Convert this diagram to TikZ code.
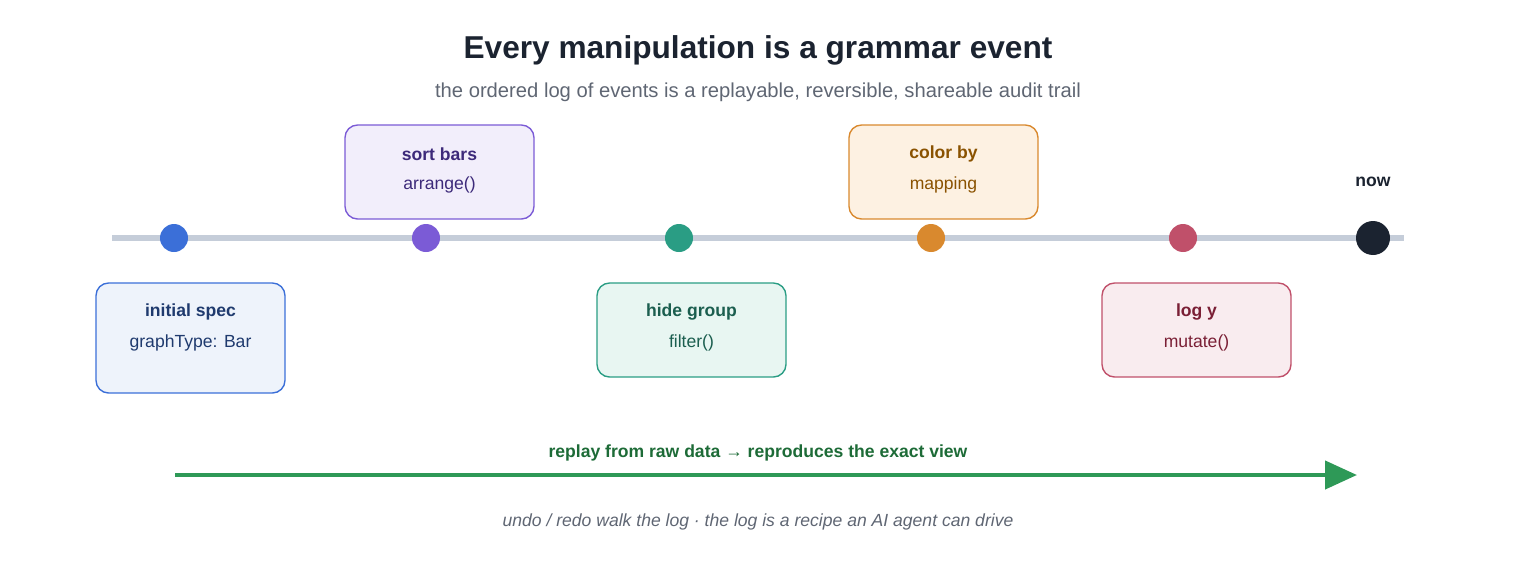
\documentclass[tikz,border=0pt]{standalone}
\usepackage{fontspec}
\setmainfont{Liberation Sans}
\usetikzlibrary{positioning}
\usetikzlibrary{arrows.meta}
\definecolor{lineg}{HTML}{C5CDD9}
\definecolor{ink}{HTML}{1B2330}
\definecolor{subg}{HTML}{5F6673}
\definecolor{cblue}{HTML}{3B6FD8}
\definecolor{fblue}{HTML}{EEF3FB}
\definecolor{tblue}{HTML}{1F3A6E}
\definecolor{cpurp}{HTML}{7B5BD6}
\definecolor{fpurp}{HTML}{F2EEFB}
\definecolor{tpurp}{HTML}{3D2A7A}
\definecolor{cteal}{HTML}{2A9D84}
\definecolor{fteal}{HTML}{E8F6F2}
\definecolor{tteal}{HTML}{1B5E4F}
\definecolor{corng}{HTML}{D9892E}
\definecolor{forng}{HTML}{FDF1E2}
\definecolor{torng}{HTML}{8A5200}
\definecolor{cred}{HTML}{C0506A}
\definecolor{fred}{HTML}{F9ECEF}
\definecolor{tred}{HTML}{7A1F35}
\definecolor{cgreen}{HTML}{2E9957}
\definecolor{tgreen}{HTML}{1D6B37}
\tikzset {
  % event dot on the timeline
  dot/.style = {circle, inner sep=0pt, minimum size=0.56cm},
  % event card
  card/.style = {draw=#1, rounded corners=2.5mm, line width=0.8pt,
    minimum width=3.78cm, minimum height=1.88cm},
  head/.style = {font=\bfseries\fontsize{10}{12}\selectfont},
  body/.style = {font=\fontsize{10}{12}\selectfont},
}
\begin{document}
\begin{tikzpicture}[x=0.02cm, y=-0.02cm]
      \useasboundingbox (0,0) rectangle (1516,572);

      \node[font=\bfseries\fontsize{18}{22}\selectfont, text=ink] (title) at (758,50) {Every manipulation is a grammar event};
      \node[font=\fontsize{11.5}{14}\selectfont, text=subg] (sub) at (758,92) {the ordered log of events is a replayable, reversible, shareable audit trail};

      \coordinate (l0) at (112,238);
      \coordinate (l1) at (1404,238);
      \draw [-, lineg, line width=3pt] (l0) -- (l1);

      \node[dot, fill=cblue] (d1) at (174,238) {};
      \node[dot, fill=cpurp] (d2) at (426,238) {};
      \node[dot, fill=cteal] (d3) at (679,238) {};
      \node[dot, fill=corng] (d4) at (931,238) {};
      \node[dot, fill=cred] (d5) at (1183,238) {};
      \node[dot, fill=ink, minimum size=0.68cm] (d6) at (1373,238) {};
      \node[head, text=ink] (now) at (1373,182) {now};

      \node[card=cblue, fill=fblue, minimum height=2.2cm] (b1) at (190.5,338) {};
      \node[head, text=tblue] at (190.5,312) {initial spec};
      \node[body, text=tblue] at (190.5,343) {graphType: Bar};

      \node[card=cpurp, fill=fpurp] (b2) at (439.5,172) {};
      \node[head, text=tpurp] at (439.5,154) {sort bars};
      \node[body, text=tpurp] at (439.5,185) {arrange()};

      \node[card=cteal, fill=fteal] (b3) at (691.5,330) {};
      \node[head, text=tteal] at (691.5,312) {hide group};
      \node[body, text=tteal] at (691.5,343) {filter()};

      \node[card=corng, fill=forng] (b4) at (943.5,172) {};
      \node[head, text=torng] at (943.5,154) {color by};
      \node[body, text=torng] at (943.5,185) {mapping};

      \node[card=cred, fill=fred] (b5) at (1196.5,330) {};
      \node[head, text=tred] at (1196.5,312) {log y};
      \node[body, text=tred] at (1196.5,343) {mutate()};

      \coordinate (r0) at (175,475);
      \coordinate (r1) at (1357,475);
      \draw [-{Triangle[length=0.64cm, width=0.56cm]}, cgreen, line width=2.5pt] (r0) -- (r1);
      \node[head, text=tgreen] (replay) at (758,453) {replay from raw data → reproduces the exact view};

      \node[font=\itshape\fontsize{10}{12}\selectfont, text=subg] (foot) at (758,522) {undo / redo walk the log · the log is a recipe an AI agent can drive};
    \end{tikzpicture}
\end{document}
